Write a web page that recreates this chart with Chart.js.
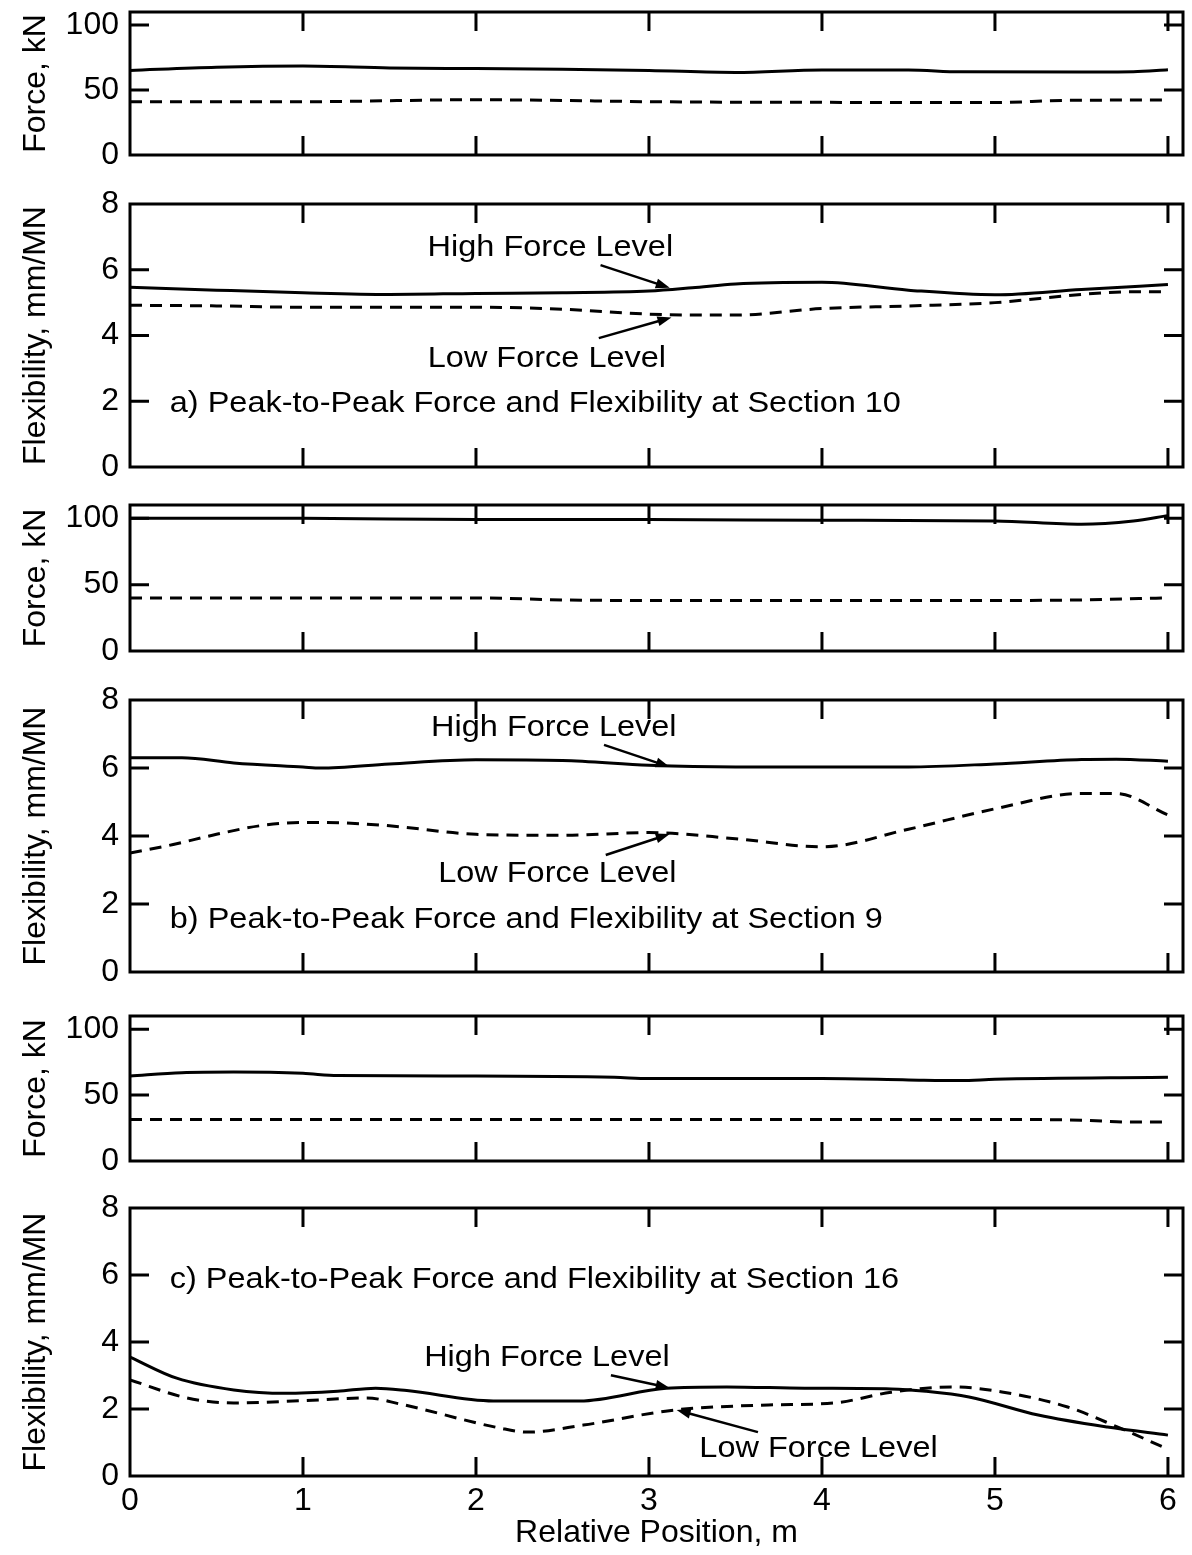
<!DOCTYPE html>
<html>
<head>
<meta charset="utf-8">
<title>Peak-to-Peak Force and Flexibility</title>
<script src="https://cdn.jsdelivr.net/npm/chart.js@4.4.1/dist/chart.umd.min.js"></script>
<style>
  html, body { margin: 0; padding: 0; background: #fff; }
  #page { position: relative; width: 1192px; height: 1555px; overflow: hidden; }
  #page canvas { position: absolute; left: 0; }
</style>
</head>
<body>
<div id="page"></div>
<script>
// axis tick values
const positionTicks = [0, 1, 2, 3, 4, 5, 6];
const forceTicks = [0, 50, 100];
const flexTicks = [0, 2, 4, 6, 8];

// Section 10 - peak-to-peak force (kN)
const s10ForceHighX = [0, 0.5, 1, 1.5, 2, 2.5, 3, 3.5, 4, 4.5, 4.8, 5.5, 5.8, 6];
const s10ForceHigh  = [65, 67.5, 68.5, 67, 66.5, 66, 65, 63.5, 65.4, 65.4, 64, 63.8, 64, 65.5];
const s10ForceLowX  = [0, 1, 2, 2.5, 3, 4, 5, 5.4, 6];
const s10ForceLow   = [41, 41, 42.5, 42, 41, 40.5, 40.3, 42, 42.3];

// Section 10 - flexibility (mm/MN)
const s10FlexHighX = [0, 0.5, 1, 1.5, 2, 2.5, 3, 3.25, 3.5, 4, 4.5, 5, 5.5, 6];
const s10FlexHigh  = [5.47, 5.38, 5.3, 5.25, 5.28, 5.3, 5.35, 5.45, 5.57, 5.62, 5.38, 5.24, 5.4, 5.55];
const s10FlexLowX  = [0, 0.5, 1, 1.5, 2, 2.5, 3, 3.5, 4, 4.5, 5, 5.5, 5.8, 6];
const s10FlexLow   = [4.92, 4.9, 4.86, 4.86, 4.86, 4.8, 4.65, 4.62, 4.82, 4.9, 5.0, 5.25, 5.33, 5.33];

// Section 9 - peak-to-peak force (kN)
const s9ForceHighX = [0, 1, 2, 2.5, 3, 4, 5, 5.5, 5.8, 6];
const s9ForceHigh  = [100, 100, 99, 99, 99, 98.5, 98, 95.5, 98, 102];
const s9ForceLowX  = [0, 1, 2, 2.5, 3, 4, 5, 5.5, 6];
const s9ForceLow   = [40, 40, 40, 38.5, 38, 38, 38, 38.5, 40];

// Section 9 - flexibility (mm/MN)
const s9FlexHighX = [0, 0.3, 0.6, 1, 1.1, 1.5, 2, 2.5, 3, 3.5, 4, 4.5, 5, 5.5, 5.7, 6];
const s9FlexHigh  = [6.3, 6.3, 6.15, 6.03, 6.0, 6.12, 6.24, 6.22, 6.08, 6.03, 6.03, 6.03, 6.12, 6.25, 6.26, 6.2];
const s9FlexLowX  = [0, 0.25, 0.5, 0.75, 1, 1.25, 1.5, 2, 2.5, 3, 3.5, 4, 4.5, 5, 5.5, 5.7, 6];
const s9FlexLow   = [3.5, 3.75, 4.05, 4.3, 4.4, 4.38, 4.3, 4.05, 4.02, 4.1, 3.92, 3.68, 4.2, 4.8, 5.25, 5.25, 4.62];

// Section 16 - peak-to-peak force (kN)
const s16ForceHighX = [0, 0.3, 0.6, 1, 1.2, 2, 2.8, 3, 4, 4.5, 4.8, 5, 6];
const s16ForceHigh  = [64.5, 67, 67.5, 66.5, 64.8, 64.5, 63.5, 62.5, 62.5, 61.5, 61, 62, 63.5];
const s16ForceLowX  = [0, 1, 2, 3, 4, 5, 5.5, 5.8, 6];
const s16ForceLow   = [31.5, 31.5, 31.5, 31.5, 31.5, 31.5, 31, 29.5, 29.5];

// Section 16 - flexibility (mm/MN)
const s16FlexHighX = [0, 0.27, 0.6, 0.9, 1.2, 1.42, 1.6, 2.1, 2.6, 3.1, 3.45, 3.9, 4.4, 4.6, 4.85, 5.25, 5.65, 6];
const s16FlexHigh  = [3.55, 2.92, 2.57, 2.47, 2.53, 2.62, 2.55, 2.24, 2.24, 2.62, 2.66, 2.62, 2.6, 2.53, 2.36, 1.82, 1.46, 1.22];
const s16FlexLowX  = [0, 0.33, 0.6, 1.0, 1.37, 1.56, 2.14, 2.3, 2.62, 3.15, 3.69, 4.07, 4.4, 4.75, 5.04, 5.42, 5.71, 5.97];
const s16FlexLow   = [2.87, 2.33, 2.18, 2.25, 2.33, 2.15, 1.43, 1.31, 1.52, 1.97, 2.12, 2.18, 2.5, 2.66, 2.51, 2.06, 1.46, 0.87];

const FONT = "'Liberation Sans', Arial, Helvetica, sans-serif";
Chart.defaults.font.family = FONT;
Chart.defaults.color = '#000';

// canvas strip (top/bottom) and plot box (areaTop/areaBottom) for each panel, in page pixels
const panels = [
  { top: 0, bottom: 180, areaTop: 12, areaBottom: 155, kind: 'force',
    high: [s10ForceHighX, s10ForceHigh], low: [s10ForceLowX, s10ForceLow] },
  { top: 180, bottom: 487, areaTop: 204, areaBottom: 467, kind: 'flex',
    high: [s10FlexHighX, s10FlexHigh], low: [s10FlexLowX, s10FlexLow],
    notes: [
      { text: 'High Force Level', x: 2.43, y: 6.72, align: 'center' },
      { text: 'Low Force Level', x: 2.41, y: 3.37, align: 'center' },
      { text: 'a) Peak-to-Peak Force and Flexibility at Section 10', x: 0.23, y: 2.0, align: 'left' }
    ],
    arrows: [
      { from: [2.72, 6.14], to: [3.12, 5.45] },
      { from: [2.71, 3.92], to: [3.13, 4.55] }
    ] },
  { top: 487, bottom: 675, areaTop: 505, areaBottom: 651, kind: 'force',
    high: [s9ForceHighX, s9ForceHigh], low: [s9ForceLowX, s9ForceLow] },
  { top: 675, bottom: 995, areaTop: 700, areaBottom: 972, kind: 'flex',
    high: [s9FlexHighX, s9FlexHigh], low: [s9FlexLowX, s9FlexLow],
    notes: [
      { text: 'High Force Level', x: 2.45, y: 7.26, align: 'center' },
      { text: 'Low Force Level', x: 2.47, y: 2.94, align: 'center' },
      { text: 'b) Peak-to-Peak Force and Flexibility at Section 9', x: 0.23, y: 1.59, align: 'left' }
    ],
    arrows: [
      { from: [2.74, 6.68], to: [3.12, 6.03] },
      { from: [2.75, 3.44], to: [3.12, 4.06] }
    ] },
  { top: 995, bottom: 1185, areaTop: 1016, areaBottom: 1161, kind: 'force',
    high: [s16ForceHighX, s16ForceHigh], low: [s16ForceLowX, s16ForceLow] },
  { top: 1185, bottom: 1555, areaTop: 1208, areaBottom: 1476, kind: 'flex', last: true,
    high: [s16FlexHighX, s16FlexHigh], low: [s16FlexLowX, s16FlexLow],
    notes: [
      { text: 'c) Peak-to-Peak Force and Flexibility at Section 16', x: 0.23, y: 5.91, align: 'left' },
      { text: 'High Force Level', x: 2.41, y: 3.58, align: 'center' },
      { text: 'Low Force Level', x: 3.98, y: 0.87, align: 'center' }
    ],
    arrows: [
      { from: [2.78, 3.01], to: [3.12, 2.63] },
      { from: [3.63, 1.31], to: [3.16, 1.97] }
    ] }
];

function toPoints(pair) {
  return pair[0].map((x, i) => ({ x: x, y: pair[1][i] }));
}

// box around the plot with inward tick marks, then the text labels and arrows
const framePlugin = {
  id: 'frame',
  afterDraw(chart, args, opts) {
    const ctx = chart.ctx;
    const { left, right, top, bottom } = chart.chartArea;
    const xs = chart.scales.x, ys = chart.scales.y;
    const tick = 19;
    ctx.save();
    ctx.strokeStyle = '#000';
    ctx.lineWidth = 3;
    ctx.lineCap = 'butt';
    ctx.strokeRect(left, top, right - left, bottom - top);
    ctx.beginPath();
    xs.ticks.forEach(t => {
      const px = xs.getPixelForValue(t.value);
      if (px - left < 3 || right - px < 3) return;
      ctx.moveTo(px, top); ctx.lineTo(px, top + tick);
      ctx.moveTo(px, bottom); ctx.lineTo(px, bottom - tick);
    });
    ys.ticks.forEach(t => {
      const py = ys.getPixelForValue(t.value);
      if (py - top < 3 || bottom - py < 3) return;
      ctx.moveTo(left, py); ctx.lineTo(left + tick, py);
      ctx.moveTo(right, py); ctx.lineTo(right - tick, py);
    });
    ctx.stroke();

    (opts.notes || []).forEach(n => {
      const px = xs.getPixelForValue(n.x);
      const py = ys.getPixelForValue(n.y);
      ctx.save();
      ctx.font = '29px ' + FONT;
      ctx.fillStyle = '#000';
      ctx.textAlign = n.align;
      ctx.textBaseline = 'alphabetic';
      ctx.translate(px, py + 10.4);
      ctx.scale(1.12, 1);
      ctx.fillText(n.text, 0, 0);
      ctx.restore();
    });

    (opts.arrows || []).forEach(a => {
      const x0 = xs.getPixelForValue(a.from[0]), y0 = ys.getPixelForValue(a.from[1]);
      const x1 = xs.getPixelForValue(a.to[0]), y1 = ys.getPixelForValue(a.to[1]);
      const ang = Math.atan2(y1 - y0, x1 - x0);
      const len = 14, half = 5;
      ctx.lineWidth = 2.5;
      ctx.beginPath();
      ctx.moveTo(x0, y0);
      ctx.lineTo(x1 - Math.cos(ang) * len * 0.8, y1 - Math.sin(ang) * len * 0.8);
      ctx.stroke();
      ctx.beginPath();
      ctx.moveTo(x1, y1);
      ctx.lineTo(x1 - Math.cos(ang) * len - Math.sin(ang) * half, y1 - Math.sin(ang) * len + Math.cos(ang) * half);
      ctx.lineTo(x1 - Math.cos(ang) * len + Math.sin(ang) * half, y1 - Math.sin(ang) * len - Math.cos(ang) * half);
      ctx.closePath();
      ctx.fillStyle = '#000';
      ctx.fill();
    });
    ctx.restore();
  }
};

const page = document.getElementById('page');

panels.forEach(p => {
  const canvas = document.createElement('canvas');
  canvas.width = 1192;
  canvas.height = p.bottom - p.top;
  canvas.style.top = p.top + 'px';
  page.appendChild(canvas);

  const isForce = p.kind === 'force';
  const yTicks = isForce ? forceTicks : flexTicks;

  new Chart(canvas, {
    type: 'scatter',
    data: {
      datasets: [
        {
          label: 'High Force Level',
          data: toPoints(p.high),
          showLine: true,
          borderColor: '#000',
          borderWidth: 3,
          pointRadius: 0,
          cubicInterpolationMode: 'monotone'
        },
        {
          label: 'Low Force Level',
          data: toPoints(p.low),
          showLine: true,
          borderColor: '#000',
          borderWidth: 3,
          borderDash: [12, 8],
          pointRadius: 0,
          cubicInterpolationMode: 'monotone'
        }
      ]
    },
    options: {
      responsive: false,
      animation: false,
      events: [],
      layout: { padding: { top: p.areaTop - p.top, right: 9, left: 0, bottom: 0 } },
      plugins: {
        legend: { display: false },
        tooltip: { enabled: false },
        frame: { notes: p.notes, arrows: p.arrows }
      },
      scales: {
        x: {
          type: 'linear',
          min: 0,
          max: 6.087,
          afterBuildTicks: s => { s.ticks = positionTicks.map(v => ({ value: v })); },
          afterFit: s => {
            s.height = p.bottom - p.areaBottom;
            s.paddingLeft = 0;
            s.paddingRight = 0;
          },
          grid: { display: false, drawTicks: false },
          border: { display: false },
          ticks: { display: !!p.last, padding: 6, font: { size: 32 } },
          title: {
            display: !!p.last,
            text: 'Relative Position, m',
            font: { size: 32 },
            padding: { top: 0, bottom: 3 }
          }
        },
        y: {
          type: 'linear',
          min: 0,
          max: isForce ? 110 : 8,
          afterBuildTicks: s => { s.ticks = yTicks.map(v => ({ value: v })); },
          afterFit: s => {
            s.width = 130;
            s.paddingTop = 0;
            s.paddingBottom = 0;
          },
          grid: { display: false, drawTicks: false },
          border: { display: false },
          ticks: { padding: 11, font: { size: 32 } },
          title: {
            display: true,
            text: isForce ? 'Force, kN' : 'Flexibility, mm/MN',
            font: { size: 32 },
            padding: { top: 17, bottom: 0 }
          }
        }
      }
    },
    plugins: [framePlugin]
  });
});
</script>
</body>
</html>
